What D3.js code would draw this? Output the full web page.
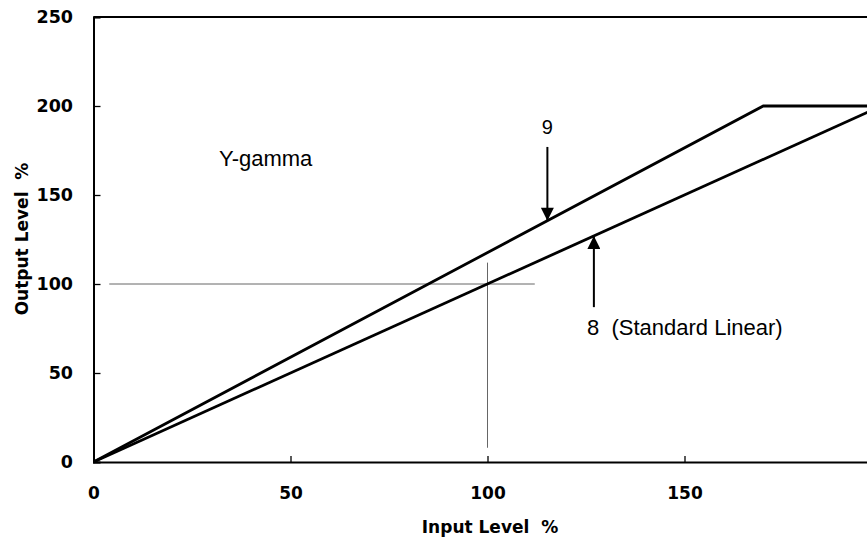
<!DOCTYPE html>
<html><head><meta charset="utf-8">
<script src="https://cdn.jsdelivr.net/npm/d3@7"></script>
<style>
body{margin:0;background:#fff;}
svg{display:block;}
</style></head>
<body>
<svg id="c" width="867" height="539"></svg>
<script>
// Data
const xTicks = [0, 50, 100, 150];
const yTicks = [0, 50, 100, 150, 200, 250];
const curve9 = [[0, 0], [170, 200], [200, 200]];          // Y-gamma 9
const curve8 = [[0, 0], [200, 200]];                        // 8 (Standard Linear)
const crossH = [[4, 100], [112, 100]];
const crossV = [[100, 8], [100, 112]];
const arrow9 = {x: 115.2, from: 177, to: 135.5, label: "9"};
const arrow8 = {x: 127, from: 87, to: 127, label: "8  (Standard Linear)"};
const title = "Y-gamma";
const xTitle = "Input Level  %";
const yTitle = "Output Level  %";

const svg = d3.select("#c");
const x = d3.scaleLinear().domain([0, 200]).range([93.5, 881.5]);
const y = d3.scaleLinear().domain([0, 250]).range([462, 17]);

svg.append("defs").append("marker")
  .attr("id", "ah").attr("viewBox", "0 0 10 10").attr("refX", 10).attr("refY", 5)
  .attr("markerWidth", 18).attr("markerHeight", 13).attr("markerUnits", "userSpaceOnUse")
  .attr("orient", "auto")
  .append("path").attr("d", "M0,0 L10,5 L0,10 Z").attr("fill", "#000");

const tickFont = "'DejaVu Sans', sans-serif";

// Axes
const yAxis = d3.axisLeft(y).tickValues(yTicks).tickSize(-7).tickPadding(20.5);
const gy = svg.append("g").attr("transform", `translate(${x(0)},0)`).call(yAxis);
gy.select(".domain").attr("stroke-width", 2);
gy.selectAll(".tick line").attr("stroke-width", 1.3);
gy.selectAll("text").attr("font-family", tickFont).attr("font-size", 17.5)
  .attr("font-weight", "bold").attr("fill", "#000");

const xAxis = d3.axisBottom(x).tickValues(xTicks).tickSize(-6).tickPadding(25);
const gx = svg.append("g").attr("transform", `translate(0,${y(0)})`).call(xAxis);
gx.select(".domain").attr("stroke-width", 2);
gx.selectAll(".tick line").attr("stroke-width", 1.3);
gx.selectAll("text").attr("font-family", tickFont).attr("font-size", 17)
  .attr("font-weight", "bold").attr("fill", "#000");

// top border
svg.append("line").attr("x1", x(0)).attr("x2", 867).attr("y1", y(250)).attr("y2", y(250))
  .attr("stroke", "#000").attr("stroke-width", 2);

// crosshair
const line = d3.line().x(d => x(d[0])).y(d => y(d[1]));
[crossH, crossV].forEach(d => svg.append("path").attr("d", line(d))
  .attr("fill", "none").attr("stroke", "#666").attr("stroke-width", 1));

// curves
[curve9, curve8].forEach(d => svg.append("path").attr("d", line(d))
  .attr("fill", "none").attr("stroke", "#000").attr("stroke-width", 2.8));

// arrows
[arrow9, arrow8].forEach(a => svg.append("line")
  .attr("x1", x(a.x)).attr("x2", x(a.x)).attr("y1", y(a.from)).attr("y2", y(a.to))
  .attr("stroke", "#000").attr("stroke-width", 2).attr("marker-end", "url(#ah)"));

const annFont = "'Liberation Sans', Arial, sans-serif";
svg.append("text").attr("x", x(arrow9.x)).attr("y", 134).attr("text-anchor", "middle")
  .attr("font-family", annFont).attr("font-size", 20).text(arrow9.label);
svg.append("text").attr("x", 587).attr("y", 335)
  .attr("font-family", annFont).attr("font-size", 22)
  .style("white-space", "pre").text(arrow8.label);
svg.append("text").attr("x", 219).attr("y", 166)
  .attr("font-family", annFont).attr("font-size", 22).text(title);

// axis titles
svg.append("text").attr("x", 490).attr("y", 533).attr("text-anchor", "middle")
  .attr("font-family", tickFont).attr("font-size", 17).attr("font-weight", "bold")
  .style("white-space", "pre").text(xTitle);
svg.append("text").attr("transform", "translate(28,239) rotate(-90)").attr("text-anchor", "middle")
  .attr("font-family", tickFont).attr("font-size", 17).attr("font-weight", "bold")
  .style("white-space", "pre").text(yTitle);
</script>
</body></html>
